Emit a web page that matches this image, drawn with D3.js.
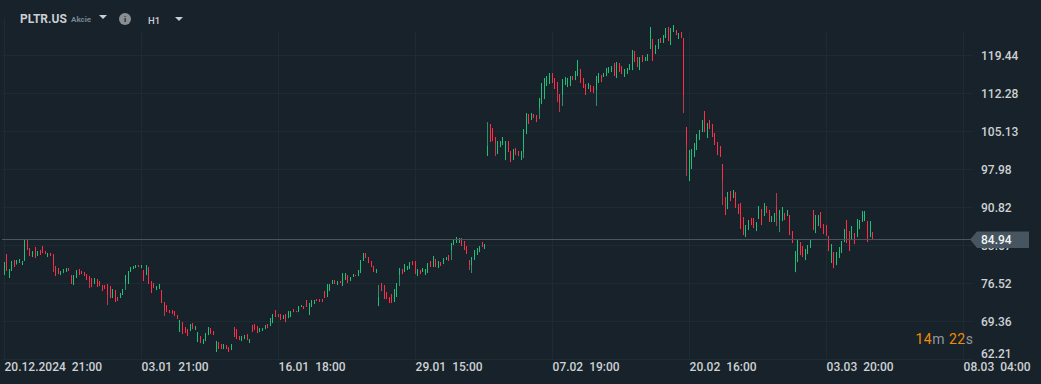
<!DOCTYPE html>
<html>
<head>
<meta charset="utf-8">
<script src="https://cdn.jsdelivr.net/npm/d3@7"></script>
<style>
  html, body { margin: 0; padding: 0; background: #17222a; }
  svg { display: block; font-family: Roboto, sans-serif; }
</style>
</head>
<body>
<div id="chart"></div>
<script>
// hourly candles
const highs = [
  80.52,82.03,79.20,80.71,80.90,80.90,81.09,80.71,84.66,84.66,83.16,82.59,83.35,82.59,82.78,83.53,82.59,82.22,82.22,82.03,
  79.77,79.39,78.83,79.20,79.39,79.39,78.07,78.07,79.01,79.20,78.83,78.64,78.26,77.88,77.51,77.51,77.32,76.94,76.19,76.19,
  76.38,76.00,75.44,75.25,73.93,74.68,75.44,78.07,78.83,79.58,79.77,79.96,79.96,79.96,79.01,79.96,79.58,76.94,76.57,76.00,
  76.38,75.25,72.99,72.42,71.48,71.48,71.29,70.54,69.60,69.22,68.28,67.90,68.85,69.03,68.47,67.34,66.59,66.02,67.15,68.28,
  68.09,67.53,65.64,65.46,65.08,65.08,64.89,64.51,65.08,68.28,67.90,66.59,66.59,66.77,66.96,66.02,68.66,68.85,68.47,68.09,
  68.09,68.66,68.85,69.97,70.73,71.48,70.73,70.73,70.54,70.73,71.29,71.29,71.67,71.29,72.23,72.42,72.23,73.36,72.80,73.36,
  73.36,73.55,73.55,73.55,75.06,76.38,76.38,77.13,77.13,76.94,76.94,78.45,78.45,78.07,77.70,78.26,78.07,79.01,80.90,82.22,
  82.22,81.46,80.71,79.77,79.20,76.19,76.57,76.19,74.87,73.93,74.49,75.44,76.57,79.39,79.20,80.14,79.77,80.52,80.71,80.71,
  79.20,79.01,79.39,79.20,80.33,80.71,81.65,81.09,80.71,80.52,81.27,81.46,81.84,84.10,84.66,85.23,85.04,85.04,84.48,83.53,
  80.90,81.46,82.78,83.16,83.53,84.29,83.91,106.87,106.50,105.74,104.05,103.29,103.29,104.05,103.29,103.29,101.41,101.79,101.98,101.41,
  101.41,105.55,108.57,108.38,108.57,108.38,108.19,111.39,114.22,115.16,115.53,116.10,116.10,115.16,114.40,112.15,114.97,115.35,115.16,115.53,
  115.53,116.48,118.55,116.85,115.16,114.03,114.22,113.84,113.65,115.53,116.10,115.72,116.10,117.04,117.23,117.42,117.98,118.17,117.98,117.42,
  116.85,117.04,117.79,120.43,120.24,119.11,119.11,119.49,119.11,119.68,124.76,122.50,121.37,122.50,122.69,123.26,124.57,124.76,124.57,125.14,
  124.20,123.63,123.82,122.69,105.94,101.60,101.79,102.92,104.62,105.37,107.25,108.95,106.69,107.25,106.50,104.81,103.11,102.36,98.97,92.75,
  93.70,93.88,94.07,93.70,91.44,91.62,88.99,87.48,88.42,88.80,88.80,88.05,91.06,90.49,91.62,91.06,90.31,89.18,89.74,93.51,
  90.31,90.87,89.74,90.31,89.36,86.35,82.59,84.66,84.28,83.53,82.96,83.72,84.66,90.31,89.36,89.36,89.93,87.67,87.48,85.41,
  83.90,82.40,82.40,83.34,84.47,86.73,88.42,86.35,87.29,85.98,88.61,88.42,90.12,90.12,88.23,88.23,86.16
];
const lows = [
  78.07,78.83,77.51,78.83,79.58,80.08,80.33,79.96,80.71,82.78,81.65,81.46,81.27,81.65,81.84,82.22,82.03,81.46,81.65,78.64,
  77.88,78.26,78.07,78.45,78.64,78.83,76.38,76.19,77.51,78.07,78.26,77.88,77.13,75.62,75.81,76.38,75.81,76.00,75.06,75.44,
  72.42,73.74,73.74,72.99,73.18,73.74,74.31,75.25,76.38,78.64,79.20,79.39,79.58,79.39,76.94,78.07,76.38,74.68,75.62,75.25,
  75.44,72.80,70.35,71.10,70.92,70.73,70.35,69.79,67.34,66.96,67.15,66.59,67.53,67.90,67.72,65.46,65.27,65.08,65.64,66.77,
  66.96,66.77,63.57,64.14,64.14,64.14,64.14,63.57,63.95,66.40,66.02,65.83,65.64,66.02,65.83,65.27,67.34,67.72,67.15,67.34,
  67.53,67.90,68.09,68.47,69.03,70.16,70.16,69.60,69.79,69.22,69.97,70.16,71.10,71.10,71.10,72.05,71.67,72.05,70.54,72.05,
  72.61,73.18,72.99,72.99,73.74,73.93,75.06,76.38,76.38,76.19,76.57,76.00,77.13,76.57,76.94,77.70,77.88,77.88,78.45,80.71,
  81.27,80.33,79.58,78.64,78.45,72.23,75.06,73.55,73.55,72.80,72.80,72.99,73.93,76.00,78.26,78.64,79.01,79.20,79.96,78.26,
  77.88,78.26,78.64,78.07,78.45,79.58,79.58,79.58,79.39,79.77,80.14,80.90,80.71,80.90,83.72,84.10,84.10,83.53,82.78,82.03,
  79.01,78.45,80.90,81.84,82.40,83.35,82.97,100.47,103.11,103.29,100.47,100.85,102.16,102.54,99.72,101.22,99.34,99.72,100.66,100.47,
  99.72,100.09,104.61,106.50,107.25,107.63,106.87,107.44,110.26,111.20,113.65,114.03,114.22,113.09,110.64,108.76,109.89,113.84,113.46,113.65,
  114.78,114.78,115.53,114.22,113.27,111.96,113.09,112.52,112.33,109.89,114.22,114.40,115.35,115.53,116.10,116.29,115.53,115.16,116.29,115.91,
  115.35,115.91,116.66,116.66,118.17,117.23,116.66,118.17,118.36,118.36,120.62,118.36,119.68,120.62,121.75,121.75,122.69,122.13,121.37,123.82,
  123.26,122.50,122.69,108.57,96.71,95.77,98.03,100.29,101.60,103.49,104.99,104.99,103.86,105.56,104.05,102.55,100.66,100.29,91.25,89.36,
  90.49,92.00,92.57,90.68,89.55,86.73,85.60,85.22,86.54,87.48,86.92,86.35,88.61,87.48,89.18,89.74,88.05,88.05,88.05,87.29,
  86.16,88.23,88.42,89.18,85.60,84.09,78.63,80.51,81.83,81.46,80.89,82.02,83.15,86.54,85.98,87.29,86.92,85.79,85.41,82.59,
  80.33,79.38,79.95,81.27,82.21,84.28,84.09,82.59,84.85,83.90,85.22,86.73,88.05,88.23,84.28,85.22,84.85
];
// 1 = closed up (green), 0 = closed down (red)
const rising = [
  1,0,1,1,0,1,1,1,1,0,0,1,0,1,0,0,0,1,0,0,
  0,0,1,1,1,0,0,1,1,0,0,0,0,0,0,1,0,0,0,0,
  0,0,1,0,0,1,1,1,1,1,1,1,0,1,0,1,0,0,0,1,
  1,0,0,0,0,0,0,0,1,0,0,0,1,0,1,1,0,1,1,1,
  0,0,1,0,0,1,0,0,1,0,0,0,1,1,0,1,0,0,0,1,
  1,1,0,1,1,0,0,0,1,0,1,1,0,0,1,1,0,0,1,1,
  1,0,0,0,0,1,1,1,0,1,0,1,1,0,1,1,0,1,1,1,
  0,0,0,0,1,1,0,0,0,0,0,1,1,1,0,1,1,1,0,0,
  1,0,1,1,1,0,1,0,1,0,1,1,0,1,1,1,1,0,0,0,
  0,1,1,1,1,0,1,1,0,0,0,1,1,1,1,0,0,1,0,0,
  1,1,1,0,1,0,0,1,1,1,1,1,0,0,0,0,1,1,1,1,
  0,1,1,0,0,0,1,0,0,1,1,0,1,1,1,1,0,1,0,0,
  1,1,1,1,0,0,1,0,1,1,1,0,1,1,0,1,1,0,1,1,
  0,1,0,0,0,1,1,1,1,1,1,0,1,0,0,0,0,0,0,0,
  1,0,1,0,0,0,0,1,1,0,0,1,1,0,1,0,0,1,1,0,
  1,1,0,1,0,0,1,1,0,0,1,1,1,0,1,1,0,0,0,0,
  1,0,1,1,1,1,0,0,1,0,1,1,1,1,0,1,0
];

// candles where the body is clearly shorter than the wick; elsewhere the body fills the range
const bodyIndex = [19, 33, 40, 47, 62, 145, 153, 173, 180, 181, 187, 190, 201, 207, 214, 215, 216, 229, 263, 264, 278, 299, 300];
const bodyHigh = [82.03, 77.88, 76.38, 78.07, 72.99, 73.93, 79.39, 84.10, 80.90, 81.46, 102.36, 104.05, 105.55, 111.39, 114.40, 112.15, 114.97, 115.53, 122.69, 105.94, 98.97, 91.00, 90.31];
const bodyLow = [79.96, 76.75, 74.31, 76.50, 71.48, 72.23, 78.07, 82.78, 79.96, 79.96, 100.48, 102.85, 101.28, 109.45, 112.58, 110.39, 111.96, 112.90, 111.96, 102.55, 95.77, 89.40, 88.42];

const yTicks = [119.44, 112.28, 105.13, 97.98, 90.82, 83.67, 76.52, 69.36, 62.21];
const xTickIndex = [0, 53, 106, 159, 212, 265, 318, 371];
const xTickLabels = ["20.12.2024  21:00", "03.01  21:00", "16.01  18:00", "29.01  15:00",
  "07.02  19:00", "20.02  16:00", "03.03  20:00", "08.03  04:00"];
const lastPrice = 84.94;

const width = 1041, height = 384;
const bg = "#17222a", gridColor = "#1f2b32", textColor = "#cdd1d4";
const upColor = "#1fbf78", downColor = "#fd2e45";
const upWick = "#2b8f6a", downWick = "#b93a4c";

const svg = d3.select("#chart").append("svg")
  .attr("width", width).attr("height", height);

svg.append("rect").attr("width", width).attr("height", height).attr("fill", bg);

const x = d3.scaleLinear().domain([0, 371]).range([4.05, 963.1]);
const y = d3.scaleLinear().domain([119.44, 62.21]).range([55.3, 359.3]);
const snap = v => Math.floor(v) + 0.5;

// grid
const grid = svg.append("g");
grid.selectAll(".gy").data(yTicks).join("line")
  .attr("x1", 2).attr("x2", 973)
  .attr("y1", d => snap(y(d))).attr("y2", d => snap(y(d)))
  .attr("stroke", gridColor);
grid.selectAll(".gx").data(xTickIndex).join("line")
  .attr("x1", d => snap(x(d))).attr("x2", d => snap(x(d)))
  .attr("y1", d => d === 0 ? 18 : 32).attr("y2", 359)
  .attr("stroke", gridColor);

// candles: wick first, then the body over it
const candles = d3.range(highs.length);
const candleColor = i => rising[i] ? upColor : downColor;
const bodyOf = i => {
  const k = bodyIndex.indexOf(i);
  return k < 0 ? [highs[i], lows[i]] : [bodyHigh[k], bodyLow[k]];
};

svg.append("g").selectAll("line").data(candles).join("line")
  .attr("x1", i => snap(x(i))).attr("x2", i => snap(x(i)))
  .attr("y1", i => y(highs[i])).attr("y2", i => y(lows[i]))
  .attr("stroke", i => rising[i] ? upWick : downWick);

svg.append("g").selectAll("line").data(candles).join("line")
  .attr("x1", i => snap(x(i))).attr("x2", i => snap(x(i)))
  .attr("y1", i => y(bodyOf(i)[0])).attr("y2", i => y(bodyOf(i)[1]))
  .attr("stroke", candleColor);

// axes
const yAxis = svg.append("g").attr("transform", "translate(981,0)")
  .call(d3.axisRight(y).tickValues(yTicks).tickSize(0).tickPadding(0).tickFormat(d3.format(".2f")));
yAxis.select(".domain").remove();
yAxis.selectAll("text")
  .attr("font-family", "Roboto, sans-serif").attr("font-size", 12).attr("font-weight", 500)
  .attr("fill", textColor)
  .attr("dy", d => d === 62.21 ? "0em" : "0.32em")
  .attr("y", d => d === 62.21 ? -2 : 0);

const xAxis = svg.append("g").attr("transform", "translate(0,359)")
  .call(d3.axisBottom(x).tickValues(xTickIndex).tickSize(0).tickPadding(0)
    .tickFormat((d, i) => xTickLabels[i]));
xAxis.select(".domain").remove();
xAxis.selectAll("text")
  .attr("font-family", "Roboto, sans-serif").attr("font-size", 12).attr("font-weight", 500)
  .attr("fill", textColor).attr("text-anchor", "start")
  .attr("y", 11.5).attr("dy", 0).style("white-space", "pre");

// last price line and tag
const py = Math.round(y(lastPrice)) + 0.5;
svg.append("line").attr("x1", 2).attr("x2", 972).attr("y1", py).attr("y2", py)
  .attr("stroke", "#4a565d");
svg.append("path")
  .attr("d", `M970,${py} L977,${py - 8} H1029 V${py + 8.5} H977 Z`)
  .attr("fill", "#46555f");
svg.append("text").attr("x", 981).attr("y", py + 4.5)
  .attr("font-size", 12).attr("font-weight", 500).attr("fill", "#f2f4f5").text(d3.format(".2f")(lastPrice));

// header
const head = svg.append("g").attr("font-weight", 700);
head.append("text").attr("x", 20).attr("y", 23).attr("font-size", 12).attr("fill", "#c9ced1").text("PLTR.US");
head.append("text").attr("x", 71).attr("y", 22).attr("font-size", 8).attr("fill", "#76858f").text("Akcie");
head.append("path").attr("d", "M99,15 h8 l-4,4 Z").attr("fill", "#c9ced1");
head.append("circle").attr("cx", 125).attr("cy", 19).attr("r", 6).attr("fill", "#8b8f92");
head.append("text").attr("x", 125).attr("y", 22).attr("text-anchor", "middle").attr("font-size", 8).attr("fill", bg).text("i");
head.append("text").attr("x", 148).attr("y", 24).attr("font-size", 9.5).attr("font-weight", 500).attr("fill", "#c9ced1").text("H1");
head.append("path").attr("d", "M175,17 h8 l-4,4 Z").attr("fill", "#c9ced1");

// countdown
const countdown = svg.append("text").attr("x", 915.5).attr("y", 344).attr("font-size", 14).attr("letter-spacing", 0.5);
[["14", "#f28a00"], ["m ", "#8f979c"], ["22", "#f28a00"], ["s", "#8f979c"]].forEach(([t, c]) => {
  countdown.append("tspan").attr("fill", c).attr("xml:space", "preserve").text(t);
});
</script>
</body>
</html>
